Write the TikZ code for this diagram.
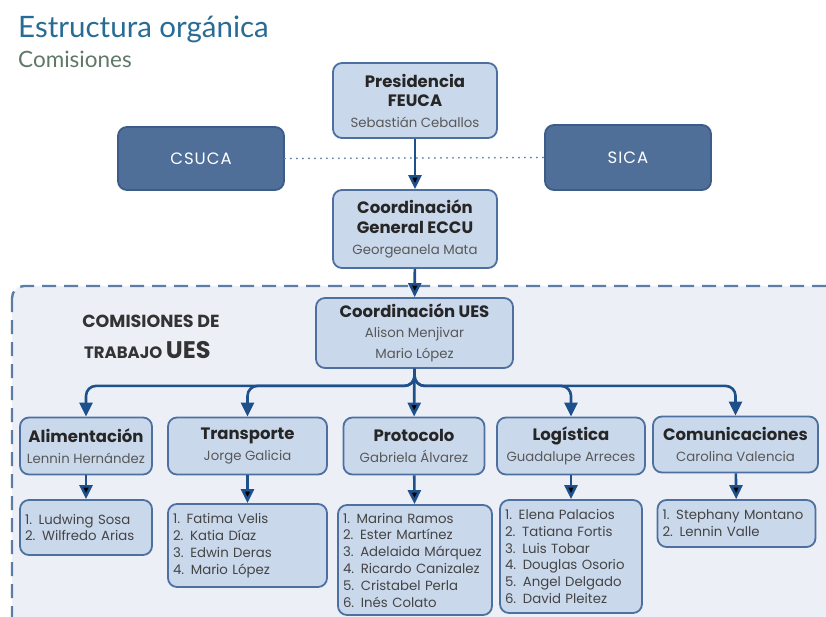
\documentclass[tikz,border=0pt]{standalone}
\usepackage{fontspec}
\setmainfont{Poppins}
\newfontfamily\titlefont{Lato}
\newfontfamily\spacedfont{Poppins}[LetterSpace=6]
\usetikzlibrary{arrows.meta}
\definecolor{boxfill}{RGB}{202,216,236}
\definecolor{boxline}{RGB}{78,112,160}
\definecolor{darkfill}{RGB}{79,111,153}
\definecolor{darkline}{RGB}{60,92,138}
\definecolor{arrowblue}{RGB}{30,80,140}
\definecolor{regionfill}{RGB}{236,240,246}
\definecolor{regionline}{RGB}{92,126,166}
\definecolor{titleblue}{RGB}{40,108,150}
\definecolor{subgreen}{RGB}{96,120,104}
\definecolor{namegrey}{RGB}{88,88,88}
\definecolor{listgrey}{RGB}{68,68,68}
\newcommand{\persona}[1]{{\mdseries\fontsize{13.3}{16}\selectfont\color{namegrey}#1}}

\begin{document}
\begin{tikzpicture}[x=1pt, y=-1pt, line join=round]
			\tikzstyle{box}=[draw=boxline, fill=boxfill, line width=1.8pt, rounded corners=9pt, align=center, inner sep=2pt, text=black!85, font=\fontsize{16.5}{19.5}\selectfont\bfseries]
			\tikzstyle{outerbox}=[draw=darkline, fill=darkfill, line width=1.8pt, rounded corners=9pt, text=white, font=\spacedfont\fontsize{16.5}{18}\selectfont]
			\tikzstyle{listbox}=[box, align=left, inner sep=5pt, text=listgrey, font=\fontsize{13.3}{16.8}\selectfont]
			\tikzstyle{arr}=[draw=arrowblue, line width=2.6pt, -{Triangle[length=14pt, width=13pt]}]
			
			\clip (0,0) rectangle (826,617);
			\fill[white] (0,0) rectangle (826,617);
			
			% Draw title
			\node[anchor=base west, inner sep=0pt, text=titleblue, font=\titlefont\fontsize{29.5}{32}\selectfont] (titulo) at (18,38) {Estructura orgánica};
			\node[anchor=base west, inner sep=0pt, text=subgreen, font=\titlefont\fontsize{22.5}{24}\selectfont] (subtitulo) at (18,68) {Comisiones};
			
			% Draw dashed region
			\draw[regionline, fill=regionfill, line width=2.4pt, dash pattern=on 14pt off 8pt, rounded corners=12pt] (12,286) rectangle (850,650);
			\node[anchor=base, inner sep=0pt, text=black!80, font=\bfseries\fontsize{17.5}{19}\selectfont] (comisiones) at (151,327) {COMISIONES DE};
			\node[anchor=base west, inner sep=0pt, text=black!80, font=\bfseries\fontsize{16.5}{19}\selectfont] (trabajo) at (84,358) {TRABAJO {\fontsize{24}{26}\selectfont UES}};
			
			% Draw different boxes
			\node[box, minimum width=164pt, minimum height=75pt] (pres) at (415,100.5) {Presidencia\\FEUCA\\[1pt]\persona{Sebastián Ceballos}};
			\node[outerbox, minimum width=166pt, minimum height=63pt] (csuca) at (201,158.5) {CSUCA};
			\node[outerbox, minimum width=166pt, minimum height=65pt] (sica) at (628,157.5) {SICA};
			\node[box, minimum width=164pt, minimum height=78pt] (coordgen) at (415,229) {Coordinación\\General ECCU\\[2pt]\persona{Georgeanela Mata}};
			\node[box, minimum width=197pt, minimum height=70pt] (ues) at (414.5,333) {Coordinación UES\\\persona{Alison Menjivar}\\[2pt]\persona{Mario López}};
			
			\node[box, minimum width=132pt, minimum height=57pt] (alim) at (86,446) {Alimentación\\[2pt]\persona{Lennin Hernández}};
			\node[box, minimum width=159pt, minimum height=57pt] (transp) at (247.5,446) {Transporte\\[2pt]\persona{Jorge Galicia}};
			\node[box, minimum width=141pt, minimum height=57pt] (proto) at (414,446) {Protocolo\\[2pt]\persona{Gabriela Álvarez}};
			\node[box, minimum width=148pt, minimum height=57pt] (logis) at (571,446) {Logística\\[2pt]\persona{Guadalupe Arreces}};
			\node[box, minimum width=165pt, minimum height=56pt] (comun) at (735.5,444.5) {Comunicaciones\\[2pt]\persona{Carolina Valencia}};
			
			\node[listbox, text width=122pt, minimum height=55pt] (lalim) at (86,527.5) {1. Ludwing Sosa\\2. Wilfredo Arias};
			\node[listbox, text width=149pt, minimum height=83pt] (ltransp) at (247.5,545.5) {1. Fatima Velis\\2. Katia Díaz\\3. Edwin Deras\\4. Mario López};
			\node[listbox, text width=144pt, minimum height=110pt] (lproto) at (415,560) {1. Marina Ramos\\2. Ester Martínez\\3. Adelaida Márquez\\4. Ricardo Canizalez\\5. Cristabel Perla\\6. Inés Colato};
			\node[listbox, text width=132pt, minimum height=113pt] (llogis) at (571,556.5) {1. Elena Palacios\\2. Tatiana Fortis\\3. Luis Tobar\\4. Douglas Osorio\\5. Angel Delgado\\6. David Pleitez};
			\node[listbox, text width=148pt, minimum height=47pt] (lcomun) at (736.5,523.5) {1. Stephany Montano\\2. Lennin Valle};
			
			% Draw dotted link
			\draw[regionline, line width=2pt, dash pattern=on 0pt off 6pt, line cap=round] (csuca.east) -- (sica.west);
			
			% Draw arrows
			\path[arr] (pres) edge (coordgen);
			\path[arr] (coordgen) edge (ues);
			\path[arr] (ues) edge (proto);
			\draw[arr, rounded corners=10pt] (ues.south) -- ++(0,17) -| (alim.north);
			\draw[arr, rounded corners=10pt] (ues.south) -- ++(0,17) -| (transp.north);
			\draw[arr, rounded corners=10pt] (ues.south) -- ++(0,17) -| (logis.north);
			\draw[arr, rounded corners=10pt] (ues.south) -- ++(0,17) -| (comun.north);
			\path[arr] (alim) edge (lalim);
			\path[arr] (transp) edge (ltransp);
			\path[arr] (proto) edge (lproto);
			\path[arr] (logis) edge (llogis);
			\path[arr] (comun) edge (lcomun);
			
		\end{tikzpicture}
\end{document}
